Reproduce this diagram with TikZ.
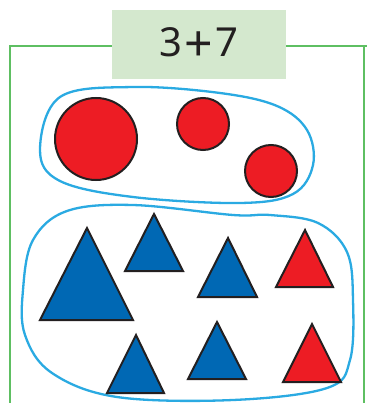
\documentclass[tikz,border=0pt]{standalone}
\usepackage{fontspec}
\setmainfont{Noto Sans}
\definecolor{framegreen}{HTML}{5EBF62}
\definecolor{labelgreen}{HTML}{D4E8CE}
\definecolor{shred}{HTML}{ED1C24}
\definecolor{shblue}{HTML}{0068B4}
\definecolor{outl}{HTML}{231F20}
\definecolor{blobblue}{HTML}{2AAAE2}
\begin{document}
\begin{tikzpicture}[x=1pt,y=-1pt,
  redc/.style={fill=shred,draw=outl,line width=2pt},
  bluet/.style={fill=shblue,draw=outl,line width=2pt,line join=miter},
  redt/.style={fill=shred,draw=outl,line width=2pt,line join=miter},
  blob/.style={draw=blobblue,line width=2.3pt},
  frame/.style={draw=framegreen,line width=2.2pt}]
\useasboundingbox (0,0) rectangle (367,403);
\fill[white] (0,0) rectangle (367,403);
% frame
\draw[frame] (10,403) -- (10,46) -- (367,46);
\draw[frame] (364,46) -- (364,403);
\node[fill=labelgreen,minimum width=174pt,minimum height=69pt,inner sep=0pt,
  font=\fontsize{40}{44}\selectfont,text=outl] (label) at (199,44.5)
  {3\kern2pt{\fontsize{50}{54}\selectfont\raisebox{-4.5pt}{+}}\kern2pt7};
% blob 1
\draw[blob] plot[smooth cycle,tension=0.6] coordinates {
  (40,150) (60,97) (133,87) (220,93) (277,106) (307,130) (313,165)
  (293,194) (240,203) (133,197) (60,181)};
% blob 2
\draw[blob] plot[smooth cycle,tension=0.6] coordinates {
  (33,240) (67,211) (133,205) (233,215) (270,215) (318,223) (347,252)
  (353,300) (350,360) (327,388) (233,400) (117,397) (52,373) (25,335) (23,290)};
% circles
\draw[redc] (96,139) circle (41);
\draw[redc] (203,124) circle (26);
\draw[redc] (271,171) circle (26);
% triangles
\draw[bluet] (87,228) -- (133,320) -- (40,320) -- cycle;
\draw[bluet] (154,214) -- (183,271) -- (125,271) -- cycle;
\draw[bluet] (228,238) -- (257,297) -- (198,297) -- cycle;
\draw[redt] (305,230) -- (333,287) -- (276,287) -- cycle;
\draw[bluet] (136,335) -- (164,393) -- (107,393) -- cycle;
\draw[bluet] (217,322) -- (246,379) -- (188,379) -- cycle;
\draw[redt] (312,324) -- (341,382) -- (283,382) -- cycle;
\end{tikzpicture}
\end{document}
